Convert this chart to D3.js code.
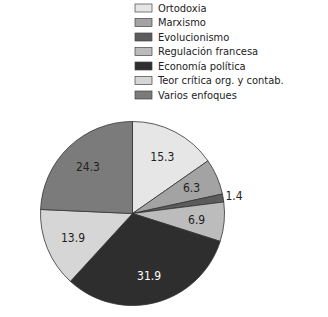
<!DOCTYPE html>
<html>
<head>
<meta charset="utf-8">
<script src="https://cdn.jsdelivr.net/npm/d3@7"></script>
<style>
  body { margin: 0; background: #fff; }
  text { font-family: "DejaVu Sans Condensed", "Liberation Sans Narrow", sans-serif; }
</style>
</head>
<body>
<div id="chart"></div>
<script>
var categories = ["Ortodoxia", "Marxismo", "Evolucionismo", "Regulación francesa",
  "Economía política", "Teor crítica org. y contab.", "Varios enfoques"];
var values = [15.3, 6.3, 1.4, 6.9, 31.9, 13.9, 24.3];
var valueLabels = ["15.3", "6.3", "1.4", "6.9", "31.9", "13.9", "24.3"];

var svgWidth = 328;
var svgHeight = 317;
var radius = 92;
var cx = 132.5, cy = 213.5;

// grises de cada sector
var fillList = ['#e6e6e6', '#a3a3a3', '#5c5c5c', '#bcbcbc', '#2e2e2e', '#d6d6d6', '#7b7b7b'];
var textList = ['#222', '#222', '#222', '#222', '#fff', '#222', '#222'];

var svg = d3.select('#chart')
  .append('svg')
  .attr('width', svgWidth)
  .attr('height', svgHeight);

var data = categories.map(function (c, i) {
  return { name: c, value: values[i], label: valueLabels[i], idx: i };
});

var pie = d3.pie()
  .sort(null)
  .value(function (d) { return d.value; });

var arc = d3.arc().innerRadius(0).outerRadius(radius);
var labelArc = d3.arc().innerRadius(radius * 0.7).outerRadius(radius * 0.7);
var outerArc = d3.arc().innerRadius(radius * 1.12).outerRadius(radius * 1.12);

var g = svg.append('g')
  .attr('transform', 'translate(' + cx + ',' + cy + ')');

var arcs = pie(data);

g.selectAll('path')
  .data(arcs)
  .enter()
  .append('path')
  .attr('d', arc)
  .attr('fill', function (d) { return fillList[d.data.idx]; })
  .attr('stroke', '#333')
  .attr('stroke-width', 0.8);

// etiquetas de valor; el sector pequeño va fuera
g.selectAll('text.val')
  .data(arcs)
  .enter()
  .append('text')
  .attr('class', 'val')
  .attr('transform', function (d) {
    var small = (d.endAngle - d.startAngle) < 0.1;
    var p = small ? outerArc.centroid(d) : labelArc.centroid(d);
    return 'translate(' + p[0] + ',' + p[1] + ')';
  })
  .attr('text-anchor', 'middle')
  .attr('dy', '0.35em')
  .attr('font-size', '12px')
  .attr('fill', function (d) { return textList[d.data.idx]; })
  .text(function (d) { return d.data.label; });

// leyenda
var legend = svg.append('g')
  .attr('transform', 'translate(135,4)');

var rows = legend.selectAll('g')
  .data(data)
  .enter()
  .append('g')
  .attr('transform', function (d, i) { return 'translate(0,' + (i * 14.5) + ')'; });

rows.append('rect')
  .attr('width', 17)
  .attr('height', 8)
  .attr('fill', function (d) { return fillList[d.idx]; })
  .attr('stroke', '#444')
  .attr('stroke-width', 0.7);

rows.append('text')
  .attr('x', 23)
  .attr('y', 4)
  .attr('dy', '0.35em')
  .attr('font-size', '11px')
  .attr('fill', '#222')
  .text(function (d) { return d.name; });
</script>
</body>
</html>
